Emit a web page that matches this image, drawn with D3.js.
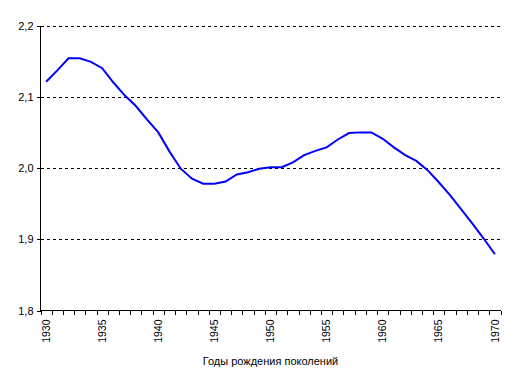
<!DOCTYPE html>
<html><head><meta charset="utf-8">
<script src="https://cdn.jsdelivr.net/npm/d3@7/dist/d3.min.js"></script>
<style>body{margin:0;background:#fff}svg{display:block}text{font-family:Arial,"Liberation Sans",sans-serif;fill:#000}</style>
</head><body><svg id="c" width="515" height="381"></svg>
<script>
const years = d3.range(1930, 1971);
const values = [2.121,2.137,2.154,2.154,2.149,2.140,2.120,2.102,2.087,2.068,
  2.050,2.023,1.999,1.985,1.978,1.978,1.981,1.991,1.994,1.999,
  2.001,2.001,2.008,2.018,2.024,2.029,2.040,2.049,2.050,2.050,
  2.041,2.029,2.018,2.010,1.997,1.980,1.962,1.942,1.922,1.901,1.879];
const yTicks = [1.8, 1.9, 2.0, 2.1, 2.2];
const yTickLabels = ["1,8", "1,9", "2,0", "2,1", "2,2"];
const xLabelYears = [1930, 1935, 1940, 1945, 1950, 1955, 1960, 1965, 1970];
const xTitle = "Годы рождения поколений";

const svg = d3.select("#c");
const L = 40.5, R = 500.5, T = 25.5, B = 310.5;
const x = d3.scaleBand().domain(years).range([L, R]).padding(0);
const xEdge = d3.scaleLinear().domain([0, years.length]).range([L, R]);
const y = d3.scaleLinear().domain([1.8, 2.2]).range([B, T]);

// gridlines
svg.append("g").selectAll("line").data(yTicks.filter(v => v > 1.8)).join("line")
  .attr("x1", L).attr("x2", R).attr("y1", d => Math.round(y(d)) + 0.5).attr("y2", d => Math.round(y(d)) + 0.5)
  .attr("stroke", "#000").attr("stroke-dasharray", "3,3").attr("shape-rendering", "crispEdges");

// y axis
const ya = svg.append("g").attr("transform", `translate(${L},0)`)
  .call(d3.axisLeft(y).tickValues(yTicks).tickSize(4).tickPadding(3)
    .tickFormat((d, i) => yTickLabels[i]));
ya.selectAll("text").style("font-size", "11px");
ya.selectAll("path,line").attr("stroke", "#000").attr("shape-rendering", "crispEdges");
ya.select(".domain").attr("d", `M0,${T}V${B}`);

// x axis ticks at category edges
const xa = svg.append("g").attr("transform", `translate(0,${B})`)
  .call(d3.axisBottom(xEdge).tickValues(d3.range(years.length + 1)).tickSize(4).tickFormat(""));
xa.selectAll("path,line").attr("stroke", "#000").attr("shape-rendering", "crispEdges");
xa.select(".domain").attr("d", `M${L},0H${R}`);

// x labels
const xl = svg.append("g").attr("transform", `translate(0,${B})`)
  .call(d3.axisBottom(x).tickValues(xLabelYears).tickSize(0).tickPadding(0));
xl.select(".domain").remove();
xl.selectAll("text").style("font-size", "10.5px")
  .attr("transform", "rotate(-90)").attr("text-anchor", "end")
  .attr("x", -9).attr("y", 0).attr("dy", "0.35em");

// line
svg.append("path").datum(values)
  .attr("fill", "none").attr("stroke", "#0000ff").attr("stroke-width", 2)
  .attr("d", d3.line().x((d, i) => x(years[i]) + x.bandwidth() / 2).y(d => y(d)));

svg.append("text").attr("x", (L + R) / 2).attr("y", 365).attr("text-anchor", "middle")
  .style("font-size", "11px").text(xTitle);
</script></body></html>
